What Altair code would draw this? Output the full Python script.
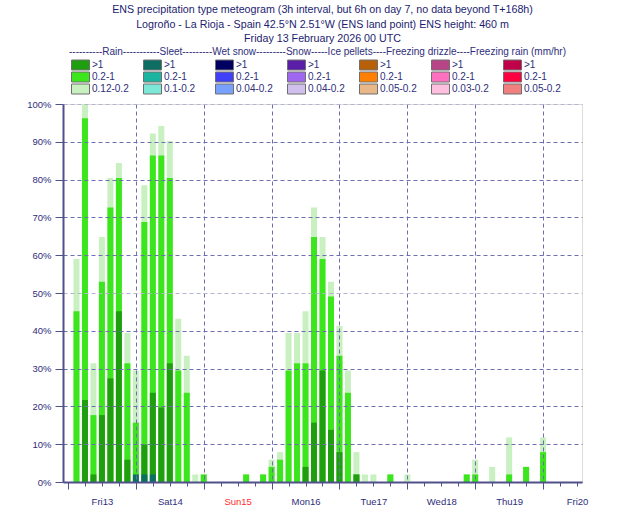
import altair as alt
import pandas as pd

# Forecast steps (hours after base time): 3-hourly to T+144, then 6-hourly to T+168
hours = list(range(3, 145, 3)) + [150, 156, 162, 168]

# Probability (%) of rain above each rate class, per step
rain_low = [59, 100, 31.4, 64.8, 80.4, 84.4, 39.4, 29.5, 78.5, 92.2, 94.2, 90.2,
            43.2, 33.4, 2, 2, 0, 0, 0, 0, 2, 0, 2, 5.9,
            7.9, 39.4, 39.4, 45.2, 72.6, 64.8, 53, 41.3, 29.5, 7.9, 2, 2,
            0, 2, 0, 2, 0, 0, 0, 0, 0, 0, 2, 5.9,
            4, 11.8, 4, 11.8]
rain_mid = [45.2, 96.2, 17.7, 53, 72.6, 80.4, 31.4, 15.7, 68.8, 86.4, 86.4, 80.4,
            29.5, 23.6, 0, 2, 0, 0, 0, 0, 2, 0, 2, 4,
            5.9, 29.5, 31.4, 31.4, 64.8, 59, 49.1, 33.4, 23.6, 2, 0, 0,
            0, 2, 0, 0, 0, 0, 0, 0, 0, 0, 2, 2,
            0, 2, 4, 7.9]
rain_high = [0, 21.7, 2, 17.7, 27.4, 45.2, 5.9, 0, 9.9, 23.6, 19.7, 31.4,
             0, 0, 0, 0, 0, 0, 0, 0, 0, 0, 0, 0,
             0, 0, 0, 4, 15.7, 29.5, 13.8, 7.9, 0, 2, 0, 0,
             0, 0, 0, 0, 0, 0, 0, 0, 0, 0, 0, 0,
             0, 0, 0, 0]
sleet_high = [0, 0, 0, 0, 0, 0, 0, 2, 2, 2, 0, 0] + [0] * 40

# Legend classes (precipitation type x rate class) and colours
ptypes = ["Rain", "Sleet", "Wet snow", "Snow", "Ice pellets",
          "Freezing drizzle", "Freezing rain"]
rate_high = [">1"] * 7
rate_mid = ["0.2-1"] * 7
rate_low = ["0.12-0.2", "0.1-0.2", "0.04-0.2", "0.04-0.2", "0.05-0.2",
            "0.03-0.2", "0.05-0.2"]
colors_high = ["#1f9e10", "#0e6e64", "#000062", "#5a1ea8", "#b86008",
               "#b84488", "#c00048"]
colors_mid = ["#3ce61c", "#1ab4a0", "#4040f8", "#a068f0", "#ff8000",
              "#ff70c0", "#ff0040"]
colors_low = ["#c8f0c0", "#7ee8d8", "#78a0ff", "#d0c0ee", "#e8b888",
              "#ffc0e0", "#f08080"]

days = ["Fri13", "Sat14", "Sun15", "Mon16", "Tue17", "Wed18", "Thu19", "Fri20"]
y_ticks = list(range(0, 101, 10))

title_lines = [
    "ENS precipitation type meteogram (3h interval, but 6h on day 7, no data beyond T+168h)",
    "Logroño - La Rioja - Spain 42.5°N 2.51°W (ENS land point) ENS height: 460 m",
    "Friday 13 February 2026 00 UTC",
]
legend_header = ("----------Rain-----------Sleet---------Wet snow---------Snow-----"
                 "Ice pellets----Freezing drizzle----Freezing rain (mm/hr)")

# Colour scale domain: one legend column per type, rows >1 / 0.2-1 / low
domain, palette = [], []
for p, rh, rm, rl, ch, cm, cl in zip(ptypes, rate_high, rate_mid, rate_low,
                                     colors_high, colors_mid, colors_low):
    domain += [f"{p}|{rh}", f"{p}|{rm}", f"{p}|{rl}"]
    palette += [ch, cm, cl]

# Long table: lighter classes first so darker ones are painted on top
series = [
    (f"Rain|{rate_low[0]}", rain_low),
    (f"Rain|{rate_mid[0]}", rain_mid),
    (f"Rain|{rate_high[0]}", rain_high),
    (f"Sleet|{rate_high[1]}", sleet_high),
]
rows = []
for draw, (cls, vals) in enumerate(series):
    for h, v in zip(hours, vals):
        if v > 0:
            rows.append({"hour": h, "cls": cls, "prob": v, "draw": draw})
df = pd.DataFrame(rows)

FONT = "Liberation Sans"
NAVY = "#2e2e7a"
GRID = "#6e6eb0"
AXIS = "#50508a"

days_js = "[" + ",".join(f"'{d}'" for d in days) + "]"

x_axis = alt.Axis(
    values=list(range(0, 181, 6)),
    labelExpr=f"datum.value % 24 === 12 ? {days_js}[floor(datum.value / 24)] : ''",
    labelColor={"condition": {"test": "datum.value === 60", "value": "#ff2a2a"},
                "value": NAVY},
    labelFont=FONT, labelFontSize=9.5, labelPadding=10,
    labelOverlap=False, labelFlush=False, labelBound=False,
    tickSize={"condition": {"test": "datum.value % 24 === 0", "value": 7},
              "value": 4},
    tickColor=AXIS, tickWidth=1,
    domainColor=AXIS, domainWidth=2,
    grid=True, gridDash=[4, 3], gridColor=GRID, gridWidth=1,
    gridOpacity={"condition": {"test": "datum.value % 24 === 0 && datum.value > 0 && datum.value < 180",
                               "value": 1},
                 "value": 0},
    title=None, zindex=1,
)

y_axis = alt.Axis(
    values=y_ticks,
    labelExpr="datum.value + '%'",
    labelColor=NAVY, labelFont=FONT, labelFontSize=9.5, labelPadding=4,
    tickSize=8, tickColor=AXIS, tickWidth=1,
    domainColor=AXIS, domainWidth=2,
    grid=True, gridDash=[4, 3], gridWidth=1,
    gridColor={"condition": {"test": "datum.value === 50 || datum.value === 100",
                             "value": "#b4b4cc"},
               "value": GRID},
    title=None, zindex=1,
)

legend = alt.Legend(
    orient="none", legendX=6, legendY=-57,
    columns=7, gridAlign="all", columnPadding=12, rowPadding=0, clipHeight=12,
    title=legend_header, titleFont=FONT, titleFontSize=10, titleFontWeight="normal",
    titleColor=NAVY, titleLimit=620, titlePadding=2,
    labelExpr="split(datum.label, '|')[1]",
    labelFont=FONT, labelFontSize=10, labelColor=NAVY, labelOffset=12,
    symbolType="M-0.6,-1H3V1H-0.6Z", symbolSize=100,
    symbolStrokeColor="#707070", symbolStrokeWidth=1, symbolOpacity=1,
)

chart = alt.Chart(df).mark_bar(width=6, opacity=1).encode(
    x=alt.X("hour:Q", scale=alt.Scale(domain=[0, 180], nice=False, zero=False),
            axis=x_axis),
    y=alt.Y("prob:Q", scale=alt.Scale(domain=[0, 100], nice=False),
            axis=y_axis, stack=None),
    color=alt.Color("cls:N", scale=alt.Scale(domain=domain, range=palette),
                    legend=legend),
    order=alt.Order("draw:Q"),
).properties(
    width=519, height=378,
    autosize="none",
    padding={"left": 63, "top": 104, "right": 48, "bottom": 43},
    title=alt.TitleParams(text=title_lines, anchor="middle", frame="group",
                          offset=2, font=FONT, fontSize=10.7, fontWeight="normal",
                          color="#1c1c70", lineHeight=14.5),
).configure_view(
    stroke="#b0a090", strokeWidth=1,
).configure(background="white")

chart.save("out.html", embed_options={"renderer": "svg", "actions": False})
